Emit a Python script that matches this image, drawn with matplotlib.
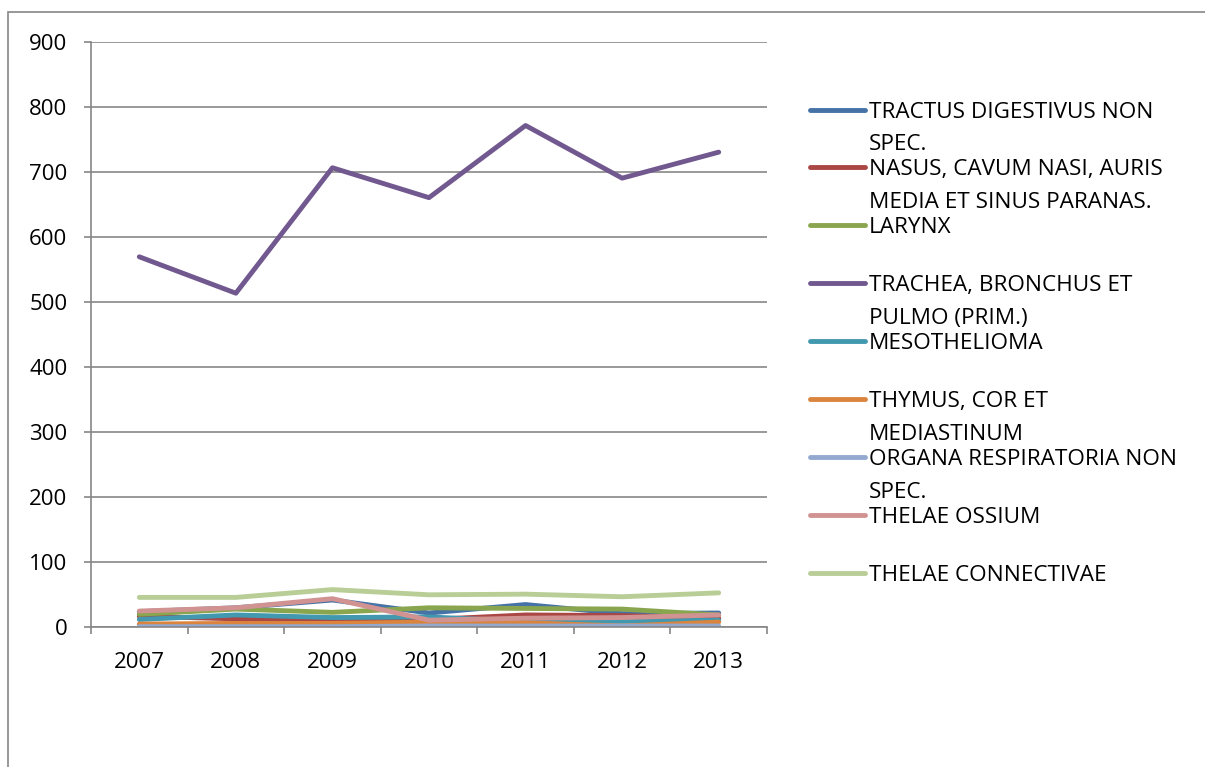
import matplotlib.pyplot as plt
from matplotlib.patches import Rectangle
from matplotlib.lines import Line2D

plt.rcParams["font.family"] = ["Open Sans", "DejaVu Sans"]

years = ["2007", "2008", "2009", "2010", "2011", "2012", "2013"]

labels = [
    "TRACTUS DIGESTIVUS NON\nSPEC.",
    "NASUS, CAVUM NASI, AURIS\nMEDIA ET SINUS PARANAS.",
    "LARYNX",
    "TRACHEA, BRONCHUS ET\nPULMO (PRIM.)",
    "MESOTHELIOMA",
    "THYMUS, COR ET\nMEDIASTINUM",
    "ORGANA RESPIRATORIA NON\nSPEC.",
    "THELAE OSSIUM",
    "THELAE CONNECTIVAE",
]

tractus = [24, 30, 42, 22, 35, 21, 22]
nasus = [17, 13, 11, 12, 19, 18, 14]
larynx = [20, 28, 23, 30, 29, 28, 19]
trachea = [570, 514, 707, 661, 772, 691, 731]
meso = [12, 19, 15, 16, 9, 9, 11]
thymus = [5, 6, 6, 8, 7, 2, 8]
organa = [1, 1, 1, 2, 2, 2, 2]
ossium = [25, 30, 44, 11, 14, 15, 19]
connectivae = [46, 46, 58, 50, 51, 47, 53]

series = [tractus, nasus, larynx, trachea, meso, thymus, organa, ossium, connectivae]
colors = ['#4572A7', '#AA4643', '#89A54E', '#71588F', '#4198AF',
          '#DB843D', '#93A9CF', '#D19392', '#B9CD96']

W, H = 1205, 767
fig = plt.figure(figsize=(W / 100, H / 100), dpi=100)

# outer chart frame (cut off at right and bottom)
fig.patches.append(Rectangle((8 / W, -0.1), 1.2, 1 - 12 / H + 0.1, transform=fig.transFigure,
                             fill=False, edgecolor='#868686', linewidth=1.2))

ax = fig.add_axes([91 / W, 1 - 627.3 / H, (767 - 91) / W, (627.3 - 42.3) / H])

x = list(range(len(years)))
for vals, c in zip(series, colors):
    ax.plot(x, vals, color=c, linewidth=3.5, solid_capstyle='round', solid_joinstyle='round')

ax.set_xlim(-0.5, len(years) - 0.5)
ax.set_ylim(0, 900)
ax.set_yticks(range(0, 901, 100))
ax.grid(axis='y', color='#878787', linewidth=1.2)
ax.set_axisbelow(True)

# category boundary ticks, labels in the middle
ax.set_xticks([i - 0.5 for i in range(len(years) + 1)])
ax.set_xticklabels([])
ax.set_xticks(x, minor=True)
ax.set_xticklabels(years, minor=True)
ax.tick_params(axis='x', which='major', length=5, width=1.2, color='#868686')
ax.tick_params(axis='x', which='minor', length=0, pad=18, labelsize=16)
ax.tick_params(axis='y', length=5, width=1.2, color='#868686', pad=12, labelsize=16)

for s in ['top', 'right']:
    ax.spines[s].set_visible(False)
for s in ['left', 'bottom']:
    ax.spines[s].set_color('#868686')
    ax.spines[s].set_linewidth(1.2)

# legend drawn by hand: handle lines up with the first text line
y0, step, gap = 109.5, 57.9, 33
for i, (lab, c) in enumerate(zip(labels, colors)):
    yy = y0 + i * step
    fig.add_artist(Line2D([810 / W, 865 / W], [1 - yy / H, 1 - yy / H], transform=fig.transFigure,
                          color=c, linewidth=3.5, solid_capstyle='round'))
    for j, line in enumerate(lab.split("\n")):
        fig.text(869 / W, 1 - (yy + 8 + j * gap) / H, line, fontsize=16.2,
                 ha='left', va='baseline', color='black')

plt.savefig('out.png', dpi=100)
plt.close()
